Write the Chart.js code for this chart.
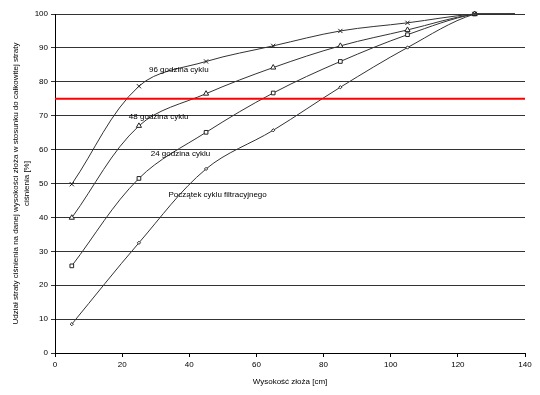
<!DOCTYPE html>
<html>
<head>
<meta charset="utf-8">
<script src="https://cdn.jsdelivr.net/npm/chart.js@4"></script>
<style>
    html, body { margin: 0; padding: 0; background: #ffffff; }
    canvas { display: block; }
</style>
</head>
<body>
<canvas id="chart" width="540" height="395"></canvas>
<script>
const heights = [5, 25, 45, 65, 85, 105, 125, 137];
const hour96 = [49.8, 78.7, 86.0, 90.6, 95.0, 97.4, 100, 100];
const hour48 = [39.9, 67.0, 76.5, 84.2, 90.6, 95.3, 100, 100];
const hour24 = [25.7, 51.5, 65.1, 76.7, 86.0, 93.9, 100, 100];
const cycleStart = [8.5, 32.5, 54.3, 65.7, 78.4, 90.1, 100, 100];
const thresholdX = [0, 140];
const thresholdY = [75, 75];

const seriesNames = ["96 godzina cyklu", "48 godzina cyklu", "24 godzina cyklu", "Początek cyklu filtracyjnego"];
// where the in-plot captions sit, in data units (x of left edge, y of middle)
const captionX = [28.0, 22.0, 28.5, 33.8];
const captionY = [83.5, 69.6, 58.7, 46.6];

const font = "'Liberation Sans', Arial, sans-serif";

function toPoints(xs, ys) {
    return xs.map((x, i) => ({ x, y: ys[i] }));
}

function markerSizes(r) {
    return heights.map((h, i) => (i === heights.length - 1 ? 0 : r));
}

const curveStyle = {
    borderColor: "#333333",
    borderWidth: 1,
    pointBorderColor: "#222222",
    pointBackgroundColor: "#ffffff",
    pointBorderWidth: 1,
    tension: 0.35,
    fill: false,
    clip: 4,
};

const captions = {
    id: "captions",
    afterDatasetsDraw(chart) {
        const { ctx, scales } = chart;
        ctx.save();
        ctx.fillStyle = "#000000";
        ctx.font = "8px " + font;
        ctx.textBaseline = "middle";
        ctx.textAlign = "left";
        seriesNames.forEach((name, i) => {
            ctx.fillText(name, scales.x.getPixelForValue(captionX[i]), scales.y.getPixelForValue(captionY[i]));
        });
        ctx.restore();
    },
};

new Chart(document.getElementById("chart"), {
    type: "line",
    data: {
        datasets: [
            {
                label: "próg",
                data: toPoints(thresholdX, thresholdY),
                borderColor: "#ff0000",
                borderWidth: 2,
                pointRadius: 0,
                tension: 0,
            },
            Object.assign({}, curveStyle, {
                label: seriesNames[0],
                data: toPoints(heights, hour96),
                pointStyle: "crossRot",
                pointRadius: markerSizes(3),
            }),
            Object.assign({}, curveStyle, {
                label: seriesNames[1],
                data: toPoints(heights, hour48),
                pointStyle: "triangle",
                pointRadius: markerSizes(3),
            }),
            Object.assign({}, curveStyle, {
                label: seriesNames[2],
                data: toPoints(heights, hour24),
                pointStyle: "rect",
                pointRadius: markerSizes(2.6),
            }),
            Object.assign({}, curveStyle, {
                label: seriesNames[3],
                data: toPoints(heights, cycleStart),
                pointStyle: "rectRot",
                pointRadius: markerSizes(1.6),
            }),
        ],
    },
    options: {
        responsive: false,
        animation: false,
        layout: { padding: { top: 14, right: 15, left: 0, bottom: 0 } },
        plugins: {
            legend: { display: false },
            tooltip: { enabled: false },
        },
        scales: {
            x: {
                type: "linear",
                min: 0,
                max: 140,
                ticks: { stepSize: 20, color: "#000000", font: { family: font, size: 8 }, padding: 3, maxRotation: 0 },
                grid: { drawOnChartArea: false, drawTicks: true, tickLength: 4, color: "#000000" },
                border: { color: "#000000", width: 1 },
                title: {
                    display: true,
                    text: "Wysokość złoża [cm]",
                    color: "#000000",
                    font: { family: font, size: 8 },
                    padding: { top: 0, bottom: 8 },
                },
                afterFit(scale) {
                    scale.height = 42;
                },
            },
            y: {
                min: 0,
                max: 100,
                ticks: { stepSize: 10, color: "#000000", font: { family: font, size: 8 }, padding: 3 },
                grid: { color: "#333333", lineWidth: 1, tickLength: 4 },
                border: { color: "#000000", width: 1 },
                title: {
                    display: true,
                    text: [
                        "Udział straty ciśnienia na danej wysokości złoża w stosunku do całkowitej straty",
                        "ciśnienia [%]",
                    ],
                    color: "#000000",
                    font: { family: font, size: 8, lineHeight: 1.4 },
                    padding: { top: 10, bottom: 0 },
                },
                afterFit(scale) {
                    scale.width = 55;
                },
            },
        },
    },
    plugins: [captions],
});
</script>
</body>
</html>
